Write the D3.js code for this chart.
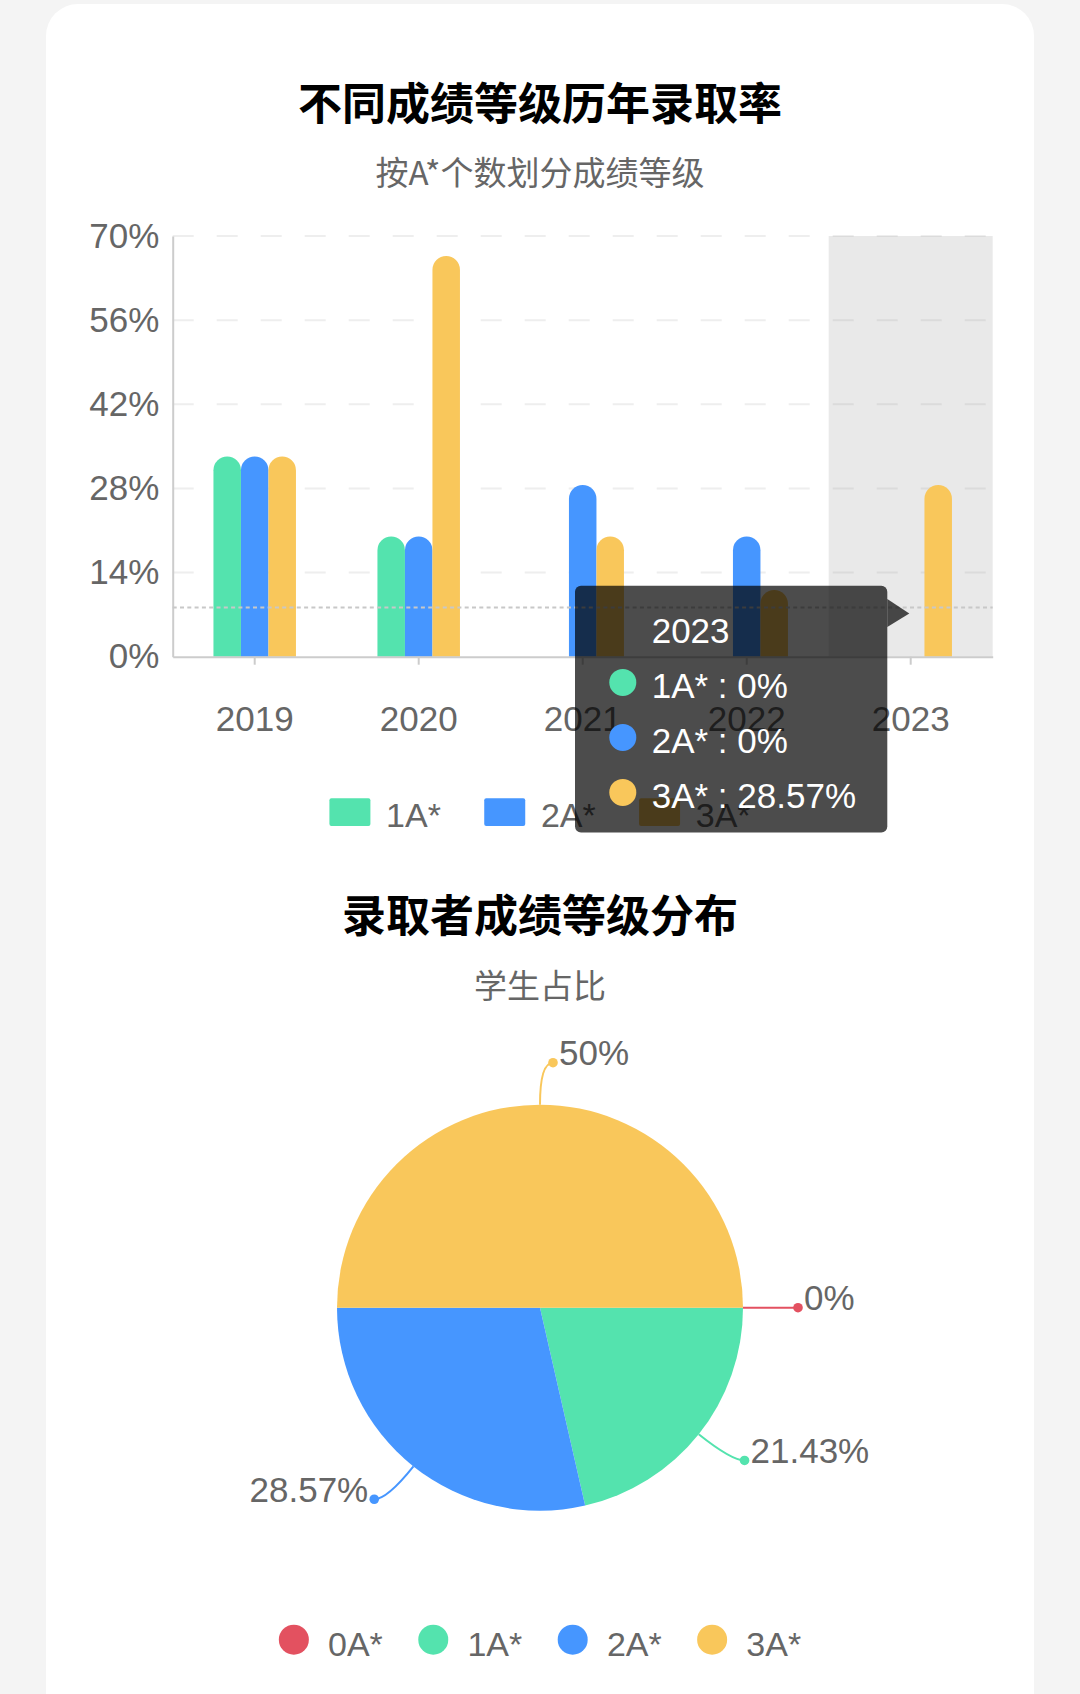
<!DOCTYPE html>
<html>
<head>
<meta charset="utf-8">
<script src="https://cdn.jsdelivr.net/npm/d3@7"></script>
<style>
html, body { margin: 0; padding: 0; background: #f4f4f4; }
svg { display: block; }
text { font-family: "Liberation Sans", Arial, "Noto Sans CJK SC", sans-serif; }
.cjk { font-family: "Noto Sans CJK SC", "Liberation Sans", sans-serif; }
</style>
</head>
<body>
<svg id="chart" width="1080" height="1694"></svg>
<script>
// bar chart data
var years = ['2019', '2020', '2021', '2022', '2023'];
var barSeries = ['1A*', '2A*', '3A*'];
var rate1A = [33.33, 20, 0, 0, 0];
var rate2A = [33.33, 20, 28.57, 20, 0];
var rate3A = [33.33, 66.67, 20, 11.11, 28.57];
var yTicks = [0, 14, 28, 42, 56, 70];
var hoverYear = '2023';
var pointerValue = 8.2;

// pie data
var pieGrades = ['0A*', '1A*', '2A*', '3A*'];
var pieShares = [0, 21.43, 28.57, 50];

var colors = {'0A*': '#e35160', '1A*': '#54e3ae', '2A*': '#4696ff', '3A*': '#f9c75b'};
var rates = {'1A*': rate1A, '2A*': rate2A, '3A*': rate3A};

var svg = d3.select('#chart');

// card
svg.append('rect')
    .attr('x', 46).attr('y', 4)
    .attr('width', 988).attr('height', 1760)
    .attr('rx', 32)
    .attr('fill', '#fff');

// titles
function titles(main, sub, mainY, subY) {
    svg.append('text').attr('class', 'cjk')
        .attr('x', 540).attr('y', mainY)
        .attr('text-anchor', 'middle')
        .style('font-size', '44px').style('font-weight', 'bold')
        .attr('fill', '#000')
        .text(main);
    svg.append('text').attr('class', 'cjk')
        .attr('x', 540).attr('y', subY)
        .attr('text-anchor', 'middle')
        .style('font-size', '33px')
        .attr('fill', '#666')
        .text(sub);
}
titles('不同成绩等级历年录取率', '按A*个数划分成绩等级', 120, 185);
titles('录取者成绩等级分布', '学生占比', 932, 998);

// ---------- bar chart ----------
var plotL = 172.7, plotR = 992.7, plotT = 236, plotB = 656.7;

var x0 = d3.scaleBand().domain(years).range([plotL, plotR]);
var groupW = 82.5;
var x1 = d3.scaleBand().domain(barSeries).range([0, groupW]);
var y = d3.scaleLinear().domain([0, 70]).range([plotB, plotT]);

svg.append('g')
    .selectAll('line')
    .data(yTicks.filter(function(d) { return d > 0; }))
    .enter().append('line')
    .attr('x1', plotL).attr('x2', plotR)
    .attr('y1', function(d) { return y(d); })
    .attr('y2', function(d) { return y(d); })
    .attr('stroke', '#eee')
    .attr('stroke-width', 2)
    .attr('stroke-dasharray', '21,23');

// hover shadow
svg.append('rect')
    .attr('x', x0(hoverYear)).attr('y', plotT)
    .attr('width', x0.bandwidth()).attr('height', plotB - plotT)
    .attr('fill', 'rgba(150,150,150,0.21)');

function roundTop(x, yTop, w, h) {
    var rx = w / 2, ry = Math.min(rx, h);
    return 'M' + x + ',' + (yTop + h) +
        'V' + (yTop + ry) +
        'A' + rx + ',' + ry + ' 0 0 1 ' + (x + w) + ',' + (yTop + ry) +
        'V' + (yTop + h) + 'Z';
}

barSeries.forEach(function(s) {
    svg.append('g')
        .selectAll('path')
        .data(years.map(function(yr, i) { return {year: yr, value: rates[s][i]}; })
            .filter(function(d) { return d.value > 0; }))
        .enter().append('path')
        .attr('fill', colors[s])
        .attr('d', function(d) {
            var bx = x0(d.year) + x0.bandwidth() / 2 - groupW / 2 + x1(s);
            return roundTop(bx, y(d.value), x1.bandwidth(), y(0) - y(d.value));
        });
});

// axes
var yAxis = svg.append('g')
    .attr('transform', 'translate(' + plotL + ',0)')
    .call(d3.axisLeft(y).tickValues(yTicks).tickSize(0).tickSizeOuter(0).tickPadding(13.4)
        .tickFormat(function(d) { return d + '%'; }));
var xAxis = svg.append('g')
    .attr('transform', 'translate(0,' + plotB + ')')
    .call(d3.axisBottom(x0).tickSize(8).tickSizeOuter(0).tickPadding(41));

[yAxis, xAxis].forEach(function(a) {
    a.attr('font-family', null).attr('font-size', null);
    a.select('.domain').attr('stroke', '#ccc').attr('stroke-width', 2);
    a.selectAll('.tick line').attr('stroke', '#ccc').attr('stroke-width', 2);
    a.selectAll('.tick text').attr('fill', '#666').style('font-size', '35px');
});

// pointer line
svg.append('line')
    .attr('x1', plotL).attr('x2', plotR)
    .attr('y1', y(pointerValue)).attr('y2', y(pointerValue))
    .attr('stroke', '#c8c8c8')
    .attr('stroke-width', 2)
    .attr('stroke-dasharray', '4,3.3');

// bar legend
var barLegend = svg.append('g');
var bx = 0;
barSeries.forEach(function(s) {
    var g = barLegend.append('g').attr('transform', 'translate(' + bx + ',0)');
    g.append('rect').attr('x', 0).attr('y', 798.3)
        .attr('width', 41).attr('height', 27.7).attr('rx', 2)
        .attr('fill', colors[s]);
    var t = g.append('text').attr('x', 56.7).attr('y', 827.3)
        .attr('fill', '#666').style('font-size', '34px').text(s);
    bx += 56.7 + t.node().getComputedTextLength() + 43.3;
});
barLegend.attr('transform', 'translate(' + (540 - (bx - 43.3) / 2) + ',0)');

// ---------- pie chart ----------
var cx = 540, cy = 1307.7, radius = 203;
var pieData = pieGrades.map(function(g, i) { return {grade: g, value: pieShares[i]}; });
var pie = d3.pie().value(function(d) { return d.value; }).sort(null)
    .startAngle(Math.PI / 2).endAngle(Math.PI / 2 + 2 * Math.PI);
var arcs = pie(pieData);
var arc = d3.arc().innerRadius(0).outerRadius(radius);
var edge = d3.arc().innerRadius(radius).outerRadius(radius);
var outer = d3.arc().innerRadius(radius + 42).outerRadius(radius + 42);

var pg = svg.append('g').attr('transform', 'translate(' + cx + ',' + cy + ')');
pg.selectAll('path.slice')
    .data(arcs)
    .enter().append('path')
    .attr('class', 'slice')
    .attr('d', arc)
    .attr('fill', function(d) { return colors[d.data.grade]; });

arcs.forEach(function(a) {
    var p0 = edge.centroid(a), p1 = outer.centroid(a);
    var mid = (a.startAngle + a.endAngle) / 2;
    var side = Math.sin(mid) >= -1e-6 ? 1 : -1;
    var p2 = [p1[0] + side * 13, p1[1]];
    var c = colors[a.data.grade];
    pg.append('path')
        .attr('d', 'M' + p0[0] + ',' + p0[1] + 'Q' + p1[0] + ',' + p1[1] + ' ' + p2[0] + ',' + p2[1])
        .attr('fill', 'none').attr('stroke', c).attr('stroke-width', 2);
    pg.append('circle').attr('cx', p2[0]).attr('cy', p2[1]).attr('r', 4.8).attr('fill', c);
    pg.append('text')
        .attr('x', p2[0] + side * 6).attr('y', p2[1] + 2.5)
        .attr('text-anchor', side > 0 ? 'start' : 'end')
        .attr('fill', '#666').style('font-size', '35px')
        .text(a.data.value + '%');
});

// pie legend
var pieLegend = svg.append('g');
var px = 0;
pieGrades.forEach(function(gr) {
    var g = pieLegend.append('g').attr('transform', 'translate(' + px + ',0)');
    g.append('circle').attr('cx', 15).attr('cy', 1639.7).attr('r', 15).attr('fill', colors[gr]);
    var t = g.append('text').attr('x', 49.2).attr('y', 1656)
        .attr('fill', '#666').style('font-size', '34px').text(gr);
    px += 49.2 + t.node().getComputedTextLength() + 35.4;
});
pieLegend.attr('transform', 'translate(' + (540 - (px - 35.4) / 2) + ',0)');

// ---------- tooltip ----------
var hoverIdx = years.indexOf(hoverYear);
var tipX = x0(hoverYear) + x0.bandwidth() / 2 - 1.4;
var tipY = y(pointerValue) + 6;
var boxR = tipX - 22, boxW = 312.3, boxH = 246.6;
var boxL = boxR - boxW, boxT = tipY - 27.6;

var tip = svg.append('g');
tip.append('rect')
    .attr('x', boxL).attr('y', boxT)
    .attr('width', boxW).attr('height', boxH)
    .attr('rx', 6)
    .attr('fill', 'rgba(0,0,0,0.7)');
tip.append('path')
    .attr('d', 'M' + boxR + ',' + (tipY - 14.5) + 'L' + tipX + ',' + tipY + 'L' + boxR + ',' + (tipY + 13.5) + 'Z')
    .attr('fill', 'rgba(0,0,0,0.7)');
tip.append('text')
    .attr('x', boxL + 76.7).attr('y', boxT + 57.6)
    .attr('fill', '#fff').style('font-size', '35px')
    .text(hoverYear);
barSeries.forEach(function(s, i) {
    tip.append('circle')
        .attr('cx', boxL + 47.8).attr('cy', boxT + 96.6 + i * 55)
        .attr('r', 13.5).attr('fill', colors[s]);
    tip.append('text')
        .attr('x', boxL + 76.7).attr('y', boxT + 112 + i * 55)
        .attr('fill', '#fff').style('font-size', '35px')
        .text(s + ' : ' + rates[s][hoverIdx] + '%');
});
</script>
</body>
</html>
